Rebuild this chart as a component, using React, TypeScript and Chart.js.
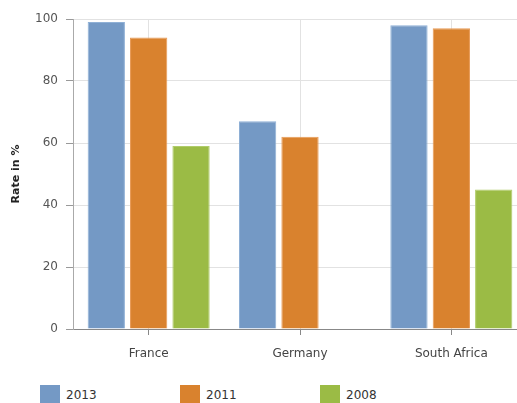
import React, { useEffect, useRef } from "react";
import { Chart, registerables } from "chart.js";

Chart.register(...registerables);

const categories = ["France", "Germany", "South Africa"];
const seriesLabels = ["2013", "2011", "2008"];
const values2013 = [99, 67, 98];
const values2011 = [94, 62, 97];
const values2008: (number | null)[] = [59, null, 45];
const yTicks = [0, 20, 40, 60, 80, 100];
const colors = ["#7499c5", "#d9822e", "#9bbb45"];
const borderColors = ["#8fb0d6", "#e89a55", "#b0cc6a"];

export default function App() {
  const ref = useRef<HTMLCanvasElement>(null);

  useEffect(() => {
    document.body.style.margin = "0";
    document.body.style.overflow = "hidden";
    const ctx = ref.current!;
    const data = [values2013, values2011, values2008];
    const chart = new Chart(ctx, {
      type: "bar",
      data: {
        labels: categories,
        datasets: data.map((d, i) => ({
          label: seriesLabels[i],
          data: d,
          backgroundColor: colors[i],
          borderColor: borderColors[i],
          borderWidth: 1,
          categoryPercentage: 0.84,
          barPercentage: 0.88,
        })),
      },
      options: {
        responsive: false,
        animation: false,
        layout: { padding: { top: 19, left: 0, right: 0, bottom: 0 } },
        plugins: {
          legend: { display: false },
          tooltip: { enabled: false },
        },
        scales: {
          x: {
            grid: {
              offset: false,
              color: "#e2e2e2",
              tickColor: "#888",
              tickLength: 6,
            },
            border: { color: "#888" },
            ticks: {
              color: "#444",
              padding: 12,
              font: { family: "DejaVu Sans", size: 12 },
            },
            afterFit: (s: any) => {
              s.height = 46;
            },
          },
          y: {
            min: 0,
            max: 100,
            afterBuildTicks: (s: any) => {
              s.ticks = yTicks.map((v) => ({ value: v }));
            },
            grid: {
              color: "#e2e2e2",
              tickColor: "#999",
              tickLength: 7,
            },
            border: { color: "#aaa" },
            ticks: {
              color: "#555",
              padding: 8,
              font: { family: "DejaVu Sans", size: 12 },
            },
            title: {
              display: true,
              text: "Rate in %",
              color: "#222",
              font: { family: "DejaVu Sans", size: 11, weight: "bold" },
              padding: { top: 10, bottom: 4 },
            },
            afterFit: (s: any) => {
              s.width = 73;
            },
          },
        },
      },
    });
    return () => chart.destroy();
  }, []);

  const legendLeft = [40, 180, 320];

  return (
    <div style={{ position: "relative", width: 517, height: 403, overflow: "hidden" }}>
      <canvas
        ref={ref}
        width={527}
        height={375}
        style={{ position: "absolute", left: 0, top: 0, width: 527, height: 375 }}
      />
      {seriesLabels.map((l, i) => (
        <div
          key={l}
          style={{
            position: "absolute",
            left: legendLeft[i],
            top: 385,
            display: "flex",
            alignItems: "center",
            fontFamily: "DejaVu Sans",
            fontSize: 12,
            color: "#333",
          }}
        >
          <span
            style={{
              display: "inline-block",
              width: 20,
              height: 20,
              background: colors[i],
              marginRight: 6,
            }}
          />
          <span>{l}</span>
        </div>
      ))}
    </div>
  );
}
